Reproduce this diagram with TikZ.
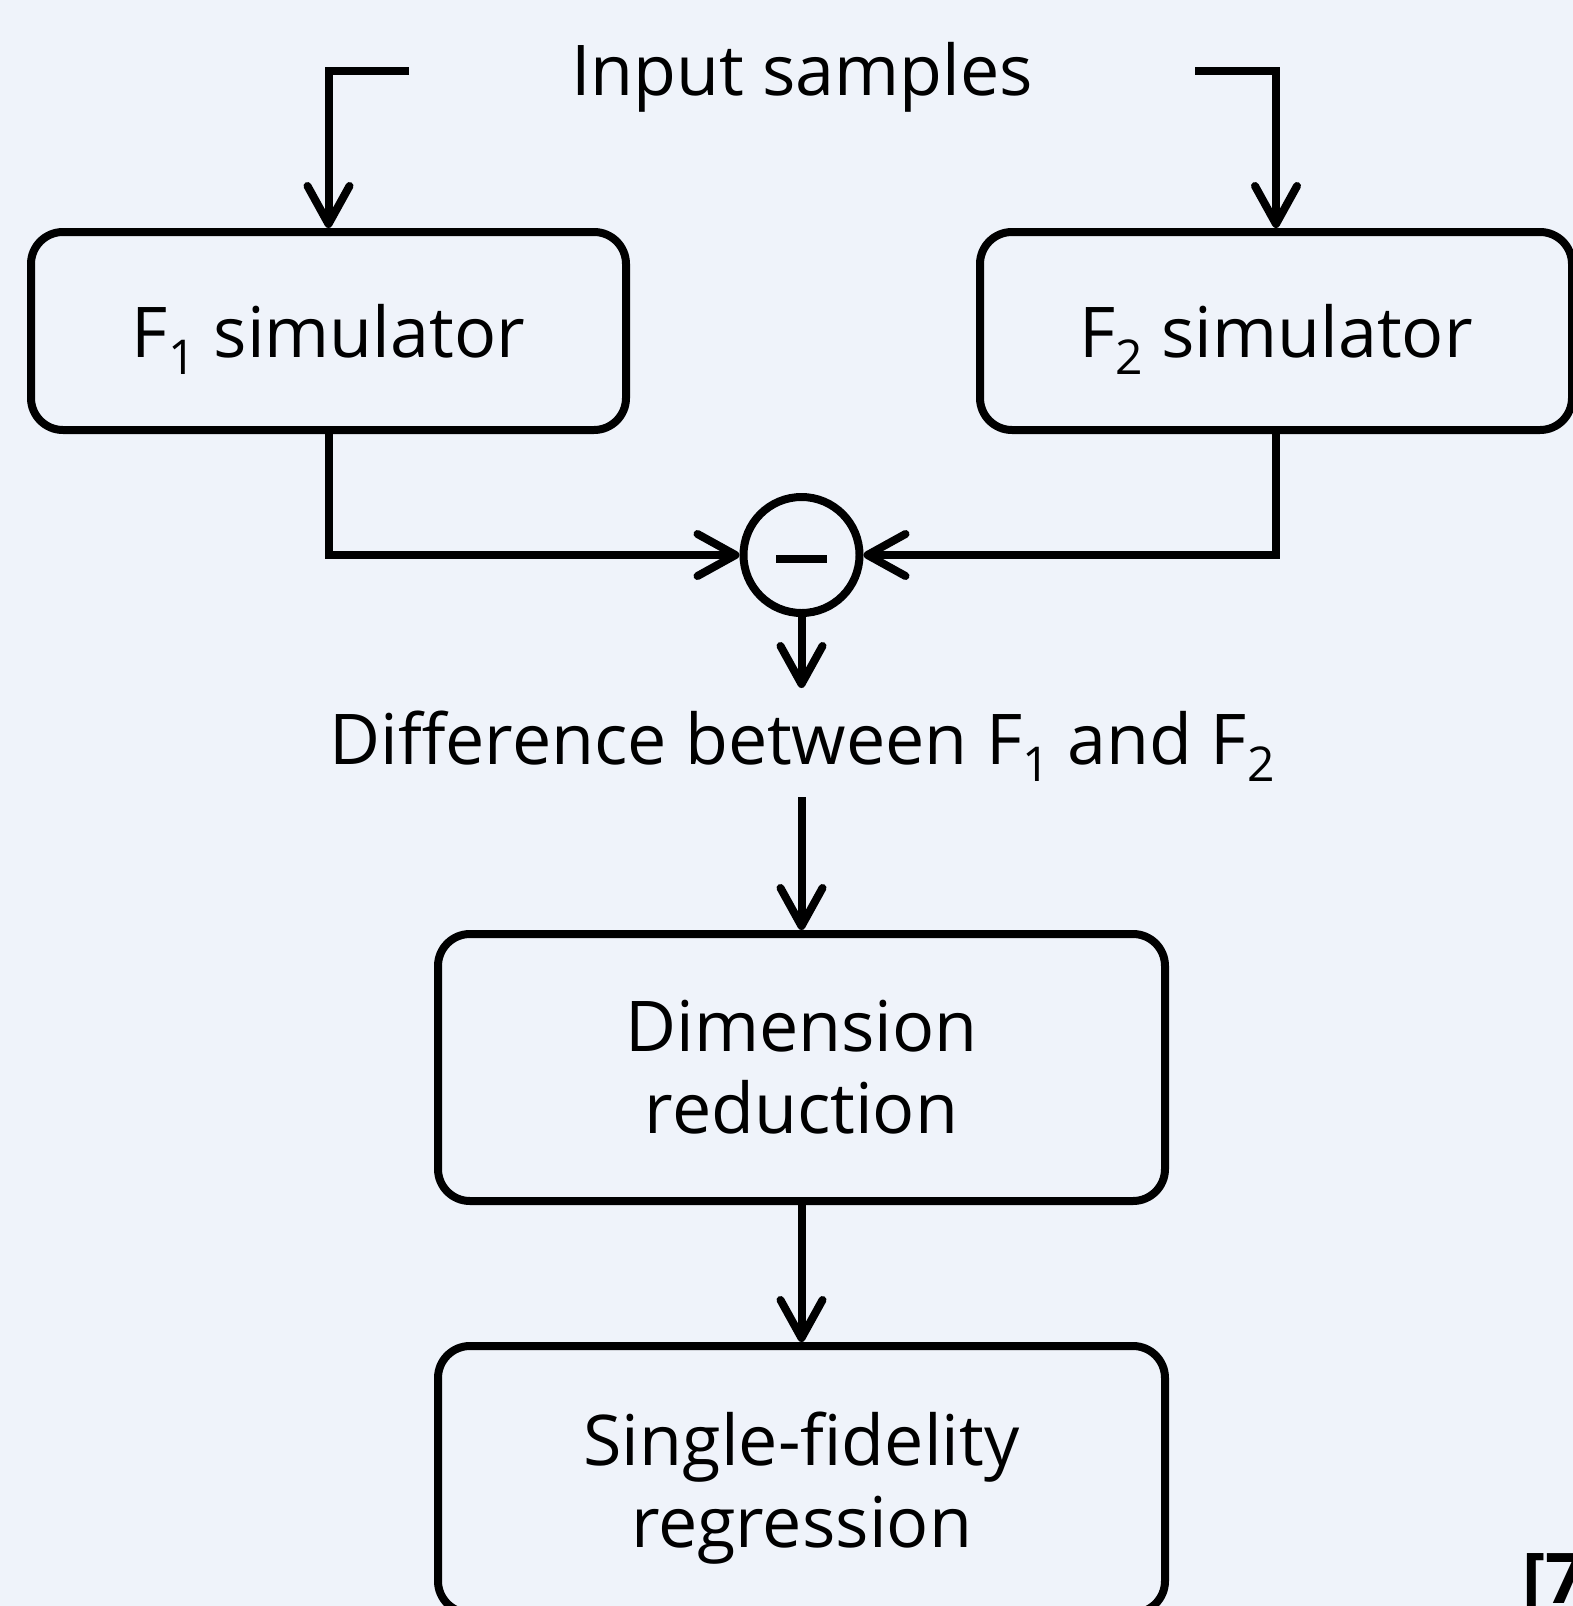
\documentclass[tikz,border=0pt]{standalone}
\usepackage{fontspec}
\setmainfont{Open Sans}
\usetikzlibrary{arrows.meta}
\definecolor{bg}{RGB}{239,243,250}
\newcommand\subidx[1]{\raisebox{-8.5pt}[0pt][0pt]{\fontsize{24pt}{24pt}\selectfont #1}}
\tikzset{
  txt/.style={font=\fontsize{35pt}{41pt}\selectfont, inner sep=0pt, align=center},
  box/.style={txt, draw, line width=4pt, rounded corners=16pt},
  conn/.style={line width=4pt, -{Straight Barb[length=19pt,width=21pt,line cap=round,line join=round]}},
  plain/.style={line width=4pt}
}
\begin{document}
\begin{tikzpicture}[x=0.5pt,y=-0.5pt]
\path[fill=bg,use as bounding box] (0,0) rectangle (1573,1606);
\node[txt] (input) at (802,77) {Input samples};
\node[box, minimum width=297.5pt, minimum height=99pt] (f1) at (328.5,331) {F\subidx{1} simulator};
\node[box, minimum width=296pt, minimum height=99pt] (f2) at (1276,331) {F\subidx{2} simulator};
\node[circle, draw, line width=4pt, minimum size=58pt, inner sep=0pt] (minus) at (801.5,555) {};
\draw[line width=4pt] ([xshift=-12.75pt,yshift=-2pt]minus.center) -- ([xshift=12.75pt,yshift=-2pt]minus.center);
\node[txt] (diff) at (802,738) {Difference between F\subidx{1} and F\subidx{2}};
\node[box, minimum width=363.5pt, minimum height=133.5pt] (dimred) at (801.5,1067.5) {Dimension\\reduction};
\node[box, minimum width=363.5pt, minimum height=133.5pt, text depth=0pt] (sfr) at (801.5,1479.5) {Single-fidelity\\regression};
\node[font=\fontsize{35pt}{41pt}\selectfont\bfseries, inner sep=0pt, anchor=base west] (cite) at (1522,1603) {[7]};
\coordinate (inL) at (409,71);
\coordinate (inR) at (1195,71);
\coordinate (diffTop) at (801.5,688);
\coordinate (diffBot) at (801.5,797);
\draw[conn] (inL) -| (f1.north);
\draw[conn] (inR) -| (f2.north);
\draw[conn] (f1.south) |- (minus.west);
\draw[conn] (f2.south) |- (minus.east);
\draw[conn] (minus.south) -- (diffTop);
\draw[conn] (diffBot) -- (dimred.north);
\draw[conn] (dimred.south) -- (sfr.north);
\end{tikzpicture}
\end{document}
